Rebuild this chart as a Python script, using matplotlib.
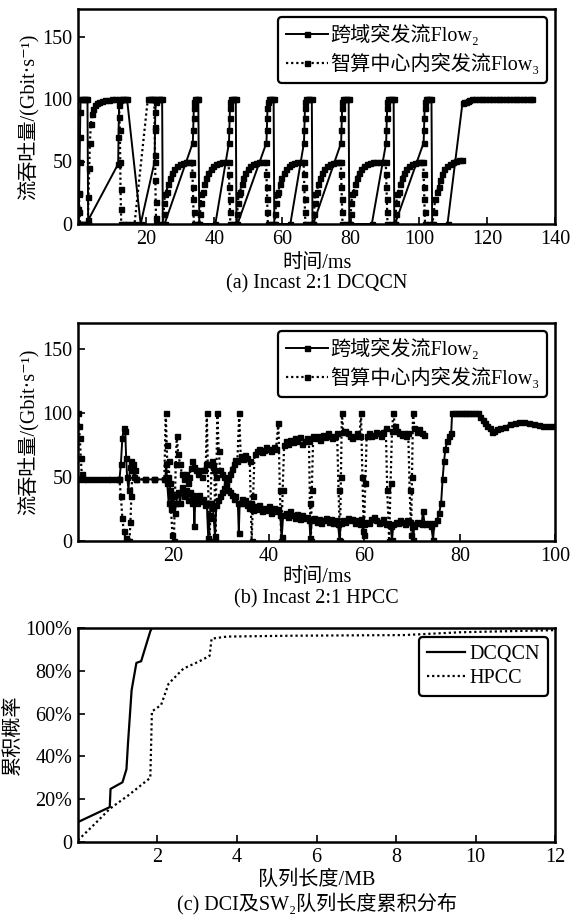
import matplotlib
matplotlib.use("Agg")
import matplotlib.pyplot as plt

plt.rcParams['font.family'] = ['Liberation Serif', 'DejaVu Serif', 'Noto Sans CJK SC']
plt.rcParams['axes.unicode_minus'] = False

# ---------------------------------------------------------------------------
# (a) Incast 2:1 DCQCN, throughput (Gbit/s) vs time (ms)
dcqcn_f2_t = [0.2, 0.35, 0.5, 0.6, 0.7, 0.8, 1.3, 1.8, 2.3, 2.8, 3.0,
              11.8, 11.9, 12.0, 12.1, 12.3, 12.8, 13.3, 13.8, 14.4,
              18.4,
              22.5, 22.6, 22.7, 22.9, 23.2, 23.7, 24.2, 24.7, 24.9,
              25.4,
              33.7, 33.8, 33.9, 34.0, 34.1, 34.3, 34.8, 35.3, 35.6,
              40.3,
              44.3, 44.4, 44.5, 44.6, 44.7, 44.9, 45.4, 45.9, 46.3, 46.5,
              46.8,
              55.3, 55.4, 55.5, 55.6, 55.7, 55.9, 56.4, 56.9, 57.4, 57.6,
              62.3,
              66.3, 66.4, 66.5, 66.6, 66.7, 66.9, 67.4, 67.9, 68.6, 68.8,
              69.0,
              77.2, 77.3, 77.4, 77.5, 77.6, 77.8, 78.3, 78.8, 79.4, 79.6,
              86.2,
              90.4, 90.5, 90.6, 90.7, 90.8, 91.0, 91.5, 92.0, 92.6, 92.8,
              93.0,
              101.4, 101.5, 101.6, 101.7, 101.8, 102.0, 102.5, 103.0, 103.7, 103.9,
              108.4,
              112.8, 113.3, 113.8, 114.3, 114.8, 115.5, 116.5, 117.5, 118.5,
              119.5, 120.5, 121.5, 122.5, 123.5, 124.5, 125.5, 126.5, 127.5,
              128.5, 129.5, 130.5, 131.5, 132.5, 133.2]
dcqcn_f2_y = [0, 25, 50, 70, 90, 100, 100, 100, 100, 100, 3,
              48, 70, 86, 95, 99, 100, 100, 100, 100,
              0,
              50, 75, 90, 98, 100, 100, 100, 100, 0,
              0,
              65, 75, 85, 93, 98, 100, 100, 100, 0,
              0,
              65, 75, 85, 93, 98, 100, 100, 100, 100, 0,
              0,
              65, 75, 85, 93, 98, 100, 100, 100, 100, 0,
              0,
              65, 75, 85, 93, 98, 100, 100, 100, 100, 0,
              0,
              65, 75, 85, 93, 98, 100, 100, 100, 100, 0,
              0,
              65, 75, 85, 93, 98, 100, 100, 100, 100, 0,
              0,
              65, 75, 85, 93, 98, 100, 100, 100, 100, 0,
              0,
              97, 97.5, 98, 98.5, 99, 100, 100, 100, 100,
              100, 100, 100, 100, 100, 100, 100, 100, 100,
              100, 100, 100, 100, 100, 100]

dcqcn_f3_t = [0.0, 0.15, 0.3, 0.45, 0.6, 1.2, 1.8, 2.4, 2.9,
              3.1, 3.3, 3.5, 3.8, 4.1, 4.5, 5.0, 5.6, 6.3, 7.1, 8.0, 9.0, 10.0, 11.0, 12.0,
              12.3, 12.4, 12.5, 12.6, 12.7, 13.5, 14.5, 15.5, 16.6,
              20.5, 21.0, 21.5, 22.0, 22.4, 22.5, 22.6, 22.7, 22.8, 22.9, 23.0, 24.0, 24.9,
              25.1, 25.3, 25.5, 26.0, 26.4, 26.9, 27.5, 28.2, 29.0, 29.8, 30.7, 31.6, 32.6, 33.5,
              33.6, 33.7, 33.8, 33.9, 34.0, 34.8, 35.6,
              35.8, 36.0, 36.2, 36.7, 37.1, 37.6, 38.2, 38.9, 39.7, 40.5, 41.4, 42.3, 43.3, 44.2,
              44.3, 44.4, 44.5, 44.6, 44.7, 45.6, 46.5,
              46.7, 46.9, 47.1, 47.6, 48.0, 48.5, 49.1, 49.8, 50.6, 51.4, 52.3, 53.2, 54.2, 55.2,
              55.3, 55.4, 55.5, 55.6, 55.7, 56.7, 57.7,
              57.9, 58.1, 58.3, 58.8, 59.2, 59.7, 60.3, 61.0, 61.8, 62.6, 63.5, 64.4, 65.4, 66.2,
              66.3, 66.4, 66.5, 66.6, 66.7, 67.8, 69.0,
              69.2, 69.4, 69.6, 70.1, 70.5, 71.0, 71.6, 72.3, 73.1, 73.9, 74.8, 75.7, 76.7, 77.1,
              77.2, 77.3, 77.4, 77.5, 77.6, 78.6, 79.8,
              80.0, 80.2, 80.4, 80.9, 81.3, 81.8, 82.4, 83.1, 83.9, 84.7, 85.6, 86.5, 87.5, 88.5,
              89.5, 90.3,
              90.4, 90.5, 90.6, 90.7, 90.8, 91.8, 93.0,
              93.2, 93.4, 93.6, 94.1, 94.5, 95.0, 95.6, 96.3, 97.1, 97.9, 98.8, 99.7, 100.7, 101.3,
              101.4, 101.5, 101.6, 101.7, 101.8, 102.9, 104.0,
              104.4, 104.8, 105.3, 105.8, 106.3, 106.9, 107.5, 108.2, 109.0, 109.9, 110.8, 111.7, 112.6]
dcqcn_f3_y = [0, 12, 24, 10, 0, 0, 0, 0, 0,
              22, 45, 65, 80, 88, 92, 95, 96.5, 97.8, 98.6, 99.2, 99.6, 100, 100, 100,
              75, 50, 28, 12, 0, 0, 0, 0, 0,
              100, 100, 100, 100, 100, 78, 55, 35, 18, 5, 0, 0, 0,
              8, 17, 24, 26, 32, 37, 41, 44, 46.5, 48, 49, 49.6, 50, 50,
              40, 30, 20, 10, 0, 0, 0,
              8, 17, 24, 26, 32, 37, 41, 44, 46.5, 48, 49, 49.6, 50, 50,
              40, 30, 20, 10, 0, 0, 0,
              8, 17, 24, 26, 32, 37, 41, 44, 46.5, 48, 49, 49.6, 50, 50,
              40, 30, 20, 10, 0, 0, 0,
              8, 17, 24, 26, 32, 37, 41, 44, 46.5, 48, 49, 49.6, 50, 50,
              40, 30, 20, 10, 0, 0, 0,
              8, 17, 24, 26, 32, 37, 41, 44, 46.5, 48, 49, 49.6, 50, 50,
              40, 30, 20, 10, 0, 0, 0,
              8, 17, 24, 26, 32, 37, 41, 44, 46.5, 48, 49, 49.6, 50, 50,
              50, 50,
              40, 30, 20, 10, 0, 0, 0,
              8, 17, 24, 26, 32, 37, 41, 44, 46.5, 48, 49, 49.6, 50, 50,
              40, 30, 20, 10, 0, 0, 0,
              10, 20, 26, 30, 35, 40, 44, 46.5, 48, 49.5, 50.5, 51, 51]

# ---------------------------------------------------------------------------
# (b) Incast 2:1 HPCC
hpcc_f2_t = [0, 2, 4, 6, 8, 8.7, 9.0, 9.3, 9.6, 9.9, 10.1, 10.3, 10.6, 10.9, 11.2, 11.5,
             11.8, 12.2, 14, 16, 18.3,
             18.5, 18.7, 19.0, 19.3, 19.6, 20.0, 20.3, 20.6, 21.0, 21.4, 21.8, 22.2, 22.6,
             23.0, 23.4, 23.8, 24.2, 24.4, 24.6, 25.0, 25.4, 25.8, 26.2, 26.6, 27.0, 27.3,
             27.6, 27.9, 28.3, 28.7, 29.0, 29.4, 29.8, 30.2, 30.6, 31.0, 31.4, 31.8, 32.2,
             32.6, 33.0, 33.5, 33.7, 33.9, 34.3, 34.7, 35.1, 35.5, 35.9, 36.2, 36.6, 37.0,
             37.5, 38.0, 38.5, 39.0, 39.5, 40.0, 40.5, 41.0, 41.5, 42.0, 42.4, 42.7, 43.0,
             43.5, 44.0, 44.5, 45.0, 45.5, 46.0, 46.5, 47.0, 47.5, 48.0, 48.5, 48.7, 49.0,
             49.5, 50.0, 50.5, 51.0, 51.5, 52.0, 52.5, 53.0, 53.5, 54.0, 54.5, 54.8, 55.1,
             55.6, 56.0, 56.5, 57.0, 57.5, 58.0, 58.5, 59.0, 59.4, 59.7, 60.0, 60.5, 61.0,
             61.5, 62.0, 62.5, 63.0, 63.5, 64.0, 64.5, 65.0, 65.5, 65.8, 66.1, 66.6, 67.0,
             67.5, 68.0, 68.5, 69.0, 69.5, 70.0, 70.2, 70.5, 71.0, 71.5, 72.0, 72.3, 72.6,
             73.0, 73.5, 74.0, 74.4, 74.7, 75.2, 75.7, 76.1, 76.4, 76.7, 77.0, 77.4, 77.8,
             78.2, 78.4, 79.0, 79.6, 80.2, 80.8, 81.4, 82.0, 82.6, 83.2, 83.8, 84.3, 84.8,
             85.3, 85.8, 86.3, 86.7, 87.2, 87.8, 88.5, 89.5, 90.5, 91.5, 92.5, 93.5, 94.5,
             95.5, 96.5, 97.5, 98.5, 99.5]
hpcc_f2_y = [48, 48, 48, 48, 48, 48, 60, 80, 88, 86, 65, 50, 40, 58, 62, 55,
             50, 48, 48, 48, 48,
             60, 45, 30, 40, 28, 35, 22, 30, 38, 30, 42, 35, 40,
             32, 38, 30, 36, 12, 34, 30, 36, 31, 33, 28, 30, 2,
             18, 30, 26, 4, 28, 32, 35, 38, 41, 43, 40, 38, 36,
             33, 35, 30, 6, 30, 33, 30, 32, 28, 26, 29, 24, 27,
             25, 28, 23, 26, 24, 27, 22, 26, 23, 25, 20, 3, 20,
             22, 19, 23, 20, 18, 21, 17, 20, 18, 19, 16, 2, 16,
             18, 15, 17, 14, 16, 18, 15, 17, 14, 16, 13, 1, 14,
             16, 15, 18, 16, 17, 14, 16, 13, 17, 8, 13, 15, 14,
             17, 19, 16, 14, 15, 17, 13, 14, 12, 1, 13, 15, 14,
             16, 15, 13, 16, 15, 13, 1, 12, 15, 14, 13, 23, 14,
             13, 14, 12, 1, 14, 16, 22, 30, 48, 62, 72, 78, 82,
             84, 100, 100, 100, 100, 100, 100, 100, 100, 100, 100, 97, 94,
             92, 90, 88, 85, 86, 87, 88, 89, 91, 92, 93, 93, 92,
             91, 90.5, 90, 90, 90]

hpcc_f3_t = [0, 0.2, 0.4, 0.6, 0.8, 1.0, 3, 5, 7, 8.7, 9.0, 9.3, 9.6, 10.0, 10.4, 10.8,
             11.0, 11.2, 11.4, 11.6, 11.9, 12.2, 14, 16, 18.1,
             18.4, 18.6, 18.8, 19.0, 19.2, 19.5, 19.8, 20.1, 20.3, 20.5, 20.7, 21.0, 21.4,
             21.8, 22.2, 22.6, 23.0, 23.3, 23.7, 24.0, 24.4, 24.8, 25.2, 25.6, 26.0, 26.4,
             26.8, 27.0, 27.2, 27.4, 27.6, 27.8, 28.0, 28.3, 28.6, 28.8, 29.0, 29.2, 29.5,
             29.8, 30.2, 30.6, 31.0, 31.4, 31.8, 32.2, 32.6, 33.0, 33.4, 33.8, 34.1, 34.5,
             35.0, 35.5, 36.0, 36.2, 36.4, 36.7, 37.0, 37.5, 38.0, 38.5, 39.0, 39.5, 40.0,
             40.5, 41.0, 41.5, 42.0, 42.3, 42.6, 42.9, 43.2, 43.6, 44.0, 44.5, 45.0, 45.5,
             46.0, 46.5, 47.0, 47.5, 48.0, 48.4, 48.6, 48.8, 49.0, 49.3, 49.8, 50.3, 50.8,
             51.3, 51.8, 52.3, 52.8, 53.3, 53.8, 54.3, 54.6, 54.9, 55.1, 55.3, 55.6, 56.0,
             56.5, 57.0, 57.5, 58.0, 58.5, 59.0, 59.3, 59.6, 59.9, 60.2, 60.5, 61.0, 61.5,
             62.0, 62.5, 63.0, 63.5, 64.0, 64.5, 64.8, 65.2, 65.5, 65.8, 66.1, 66.4, 66.8,
             67.3, 67.8, 68.3, 68.8, 69.2, 69.5, 69.8, 70.0, 70.2, 70.5, 71.0, 71.5, 72.0,
             72.5]
hpcc_f3_y = [100, 90, 80, 65, 52, 48, 48, 48, 48, 48, 35, 18, 8, 2, 0, 0,
             15, 35, 55, 60, 55, 48, 48, 48, 48,
             100, 75, 50, 62, 45, 25, 5, 0, 30, 60, 82, 68, 60,
             52, 48, 52, 45, 50, 57, 62, 58, 55, 52, 55, 50, 55,
             60, 100, 60, 20, 0, 30, 62, 58, 55, 0, 50, 100, 70,
             55, 52, 50, 46, 48, 52, 56, 60, 63, 62, 100, 66, 64,
             67, 65, 62, 30, 0, 35, 68, 70, 72, 69, 71, 73, 72,
             70, 73, 72, 92, 40, 0, 40, 75, 78, 76, 79, 77, 80,
             78, 81, 76, 78, 80, 78, 30, 0, 40, 82, 80, 82, 79,
             83, 81, 84, 82, 80, 82, 84, 40, 0, 50, 100, 85, 86,
             84, 82, 80, 82, 84, 82, 100, 50, 5, 45, 82, 84, 82,
             83, 85, 84, 82, 85, 88, 40, 0, 45, 86, 100, 90, 86,
             84, 83, 84, 82, 84, 40, 5, 50, 100, 88, 85, 87, 84,
             83]

# ---------------------------------------------------------------------------
# (c) CDF of DCI and SW2 queue length
cdf_dcqcn_x = [0, 0.80, 0.82, 1.12, 1.22, 1.26, 1.35, 1.47, 1.59, 1.68, 1.82, 1.86]
cdf_dcqcn_y = [0.093, 0.163, 0.248, 0.279, 0.34, 0.465, 0.71, 0.837, 0.845, 0.90, 0.985, 1.0]
cdf_hpcc_x = [0, 0.4, 0.8, 1.26, 1.82, 1.86, 2.09, 2.28, 2.65, 3.06, 3.31, 3.36, 3.75,
              5.4, 8.2, 9.6, 12]
cdf_hpcc_y = [0.008, 0.08, 0.155, 0.217, 0.30, 0.61, 0.64, 0.74, 0.81, 0.845, 0.87, 0.95,
              0.96, 0.964, 0.967, 0.98, 0.99]

throughput_label = '流吞吐量/(Gbit·s\u207b\u00b9)'
legend_flow2 = '跨域突发流Flow\u2082'
legend_flow3 = '智算中心内突发流Flow\u2083'

FS = 14.5


def style_axes(ax):
    for sp in ax.spines.values():
        sp.set_linewidth(1.8)
    ax.tick_params(direction='in', length=5, width=1.2, labelsize=FS,
                   top=False, right=False, pad=4)


def boxed_legend(leg):
    leg.get_frame().set_edgecolor('black')
    leg.get_frame().set_linewidth(1.6)
    leg.get_frame().set_alpha(1)


def throughput_panel(ax, f2t, f2y, f3t, f3y, xmax, ymax, xticks):
    ax.plot(f2t, f2y, color='black', lw=1.4, ls='-', marker='s', ms=3.6,
            label=legend_flow2)
    ax.plot(f3t, f3y, color='black', lw=1.6, ls=(0, (1, 1.3)), marker='s',
            ms=3.6, label=legend_flow3)
    ax.set_xlim(0, xmax)
    ax.set_ylim(0, ymax)
    ax.set_xticks(xticks)
    ax.set_yticks([0, 50, 100, 150])
    ax.set_ylabel(throughput_label, fontsize=FS, labelpad=2)
    style_axes(ax)
    leg = ax.legend(loc='upper right', fontsize=FS, frameon=True, fancybox=True,
                    handlelength=2.1, handletextpad=0.1, labelspacing=0.35,
                    borderpad=0.4, borderaxespad=0.4)
    boxed_legend(leg)


fig = plt.figure(figsize=(5.73, 9.18), dpi=100)

left, width = 0.136, 0.833
ax1 = fig.add_axes([left, 1 - 224 / 918, width, 215 / 918])
throughput_panel(ax1, dcqcn_f2_t, dcqcn_f2_y, dcqcn_f3_t, dcqcn_f3_y,
                 140, 172, [20, 40, 60, 80, 100, 120, 140])
ax2 = fig.add_axes([left, 0.4107, width, 0.2375])
throughput_panel(ax2, hpcc_f2_t, hpcc_f2_y, hpcc_f3_t, hpcc_f3_y,
                 100, 170, [20, 40, 60, 80, 100])

ax3 = fig.add_axes([left, 0.0828, width, 0.2331])
ax3.plot(cdf_dcqcn_x, cdf_dcqcn_y, color='black', lw=1.6, ls='-', label='DCQCN')
ax3.plot(cdf_hpcc_x, cdf_hpcc_y, color='black', lw=1.6, ls=(0, (1, 1.3)), label='HPCC')
ax3.set_xlim(0, 12)
ax3.set_ylim(0, 1)
ax3.set_xticks([2, 4, 6, 8, 10, 12])
ax3.set_yticks([0, 0.2, 0.4, 0.6, 0.8, 1.0])
ax3.set_yticklabels(['0', '20%', '40%', '60%', '80%', '100%'])
ax3.set_ylabel('累积概率', fontsize=FS, labelpad=2)
style_axes(ax3)
leg = ax3.legend(loc='upper right', bbox_to_anchor=(0.985, 0.96), fontsize=FS,
                 frameon=True, fancybox=True, handlelength=1.9, handletextpad=0.2,
                 labelspacing=0.25, borderpad=0.4, borderaxespad=0.0)
boxed_legend(leg)

cx = left + width / 2
fig.text(cx, 1 - 264 / 918, '时间/ms', ha='center', va='center', fontsize=FS)
fig.text(cx, 1 - 284 / 918, '(a) Incast 2:1 DCQCN', ha='center', va='center', fontsize=FS)
fig.text(cx, 1 - 578 / 918, '时间/ms', ha='center', va='center', fontsize=FS)
fig.text(cx, 1 - 599 / 918, '(b) Incast 2:1 HPCC', ha='center', va='center', fontsize=FS)
fig.text(cx, 1 - 880 / 918, '队列长度/MB', ha='center', va='center', fontsize=FS)
fig.text(cx, 1 - 904 / 918, '(c) DCI及SW\u2082队列长度累积分布', ha='center', va='center',
         fontsize=FS)

fig.savefig('out.png', dpi=100)
